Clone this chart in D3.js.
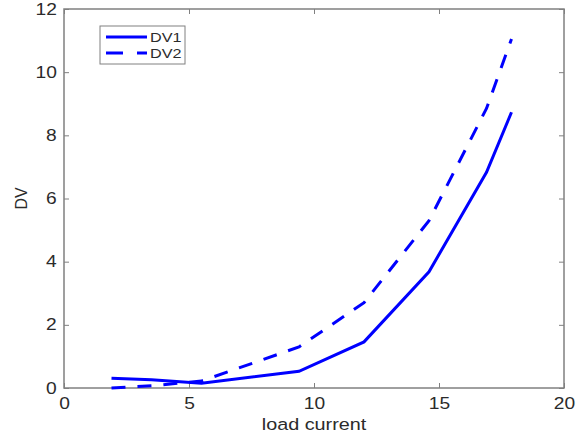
<!DOCTYPE html>
<html>
<head>
<meta charset="utf-8">
<script src="https://cdn.jsdelivr.net/npm/d3@7"></script>
<style>
body{margin:0;background:#fff;}
text{font-family:"Liberation Sans",Arial,sans-serif;}
</style>
</head>
<body>
<svg id="chart" width="586" height="439"></svg>
<script>
// data
var loadCurrent = [1.9, 3.5, 5.5, 9.4, 12.0, 14.6, 16.9, 17.9];
var dv1 = [0.31, 0.26, 0.15, 0.53, 1.46, 3.68, 6.83, 8.73];
var dv2 = [0.0, 0.07, 0.22, 1.3, 2.7, 5.3, 8.85, 11.05];
var xTicks = [0, 5, 10, 15, 20];
var yTicks = [0, 2, 4, 6, 8, 10, 12];
var seriesNames = ["DV1", "DV2"];

// the source picture is stretched sideways a little, text too
var stretch = 1.2;

function drawChart(){
	var svg = d3.select("#chart");
	var plotL = 64, plotR = 564, plotT = 9, plotB = 388;
	var axisCol = "#808080", textCol = "#2b2b2b";

	var x = d3.scaleLinear().domain([0, 20]).range([plotL, plotR]);
	var y = d3.scaleLinear().domain([0, 12]).range([plotB, plotT]);

	// box
	svg.append("rect")
		.attr("x", plotL).attr("y", plotT)
		.attr("width", plotR - plotL).attr("height", plotB - plotT)
		.attr("fill", "none").attr("stroke", axisCol).attr("stroke-width", 1.5);

	// axes, ticks point inward (matlab style)
	svg.append("g").attr("transform", "translate(0," + plotB + ")")
		.call(d3.axisBottom(x).tickValues(xTicks).tickSizeInner(-5).tickSizeOuter(0).tickPadding(10));
	svg.append("g").attr("transform", "translate(" + plotL + ",0)")
		.call(d3.axisLeft(y).tickValues(yTicks).tickSizeInner(-5).tickSizeOuter(0).tickPadding(6));
	// mirror ticks on top / right
	svg.append("g").attr("transform", "translate(0," + plotT + ")")
		.call(d3.axisTop(x).tickValues(xTicks).tickSizeInner(-5).tickSizeOuter(0).tickFormat(""));
	svg.append("g").attr("transform", "translate(" + plotR + ",0)")
		.call(d3.axisRight(y).tickValues(yTicks).tickSizeInner(-5).tickSizeOuter(0).tickFormat(""));

	svg.selectAll(".domain").remove();
	svg.selectAll(".tick line").attr("stroke", axisCol);
	svg.selectAll(".tick text").attr("fill", textCol).style("font-size", "16px")
		.style("font-family", "'Liberation Sans',Arial,sans-serif")
		.attr("transform", "scale(" + stretch + ",1)");

	// labels
	svg.append("text")
		.attr("transform", "translate(" + ((plotL + plotR) / 2) + ",430) scale(" + stretch + ",1)")
		.attr("text-anchor", "middle").attr("fill", textCol).style("font-size", "16.5px")
		.text("load current");
	svg.append("text").attr("transform", "translate(27," + ((plotT + plotB) / 2) + ") rotate(-90)")
		.attr("text-anchor", "middle").attr("fill", textCol).style("font-size", "16px")
		.text("DV");

	// lines
	var line = d3.line()
		.x(function(d){ return x(d[0]); })
		.y(function(d){ return y(d[1]); });

	var dashes = [null, "14,12"];
	[dv1, dv2].forEach(function(vals, i){
		svg.append("path")
			.datum(d3.zip(loadCurrent, vals))
			.attr("d", line)
			.attr("fill", "none")
			.attr("stroke", "#0000ff")
			.attr("stroke-width", 3)
			.attr("stroke-dasharray", dashes[i]);
	});

	// legend
	var lg = svg.append("g");
	lg.append("rect").attr("x", 100).attr("y", 26).attr("width", 85).attr("height", 38)
		.attr("fill", "#fff").attr("stroke", axisCol).attr("stroke-width", 1);
	seriesNames.forEach(function(name, i){
		var ly = 37 + i * 16;
		lg.append("line").attr("x1", 106).attr("x2", 147).attr("y1", ly).attr("y2", ly)
			.attr("stroke", "#0000ff").attr("stroke-width", 3)
			.attr("stroke-dasharray", i == 1 ? "17,14" : null);
		lg.append("text")
			.attr("transform", "translate(150," + (ly + 5) + ") scale(" + stretch + ",1)")
			.attr("fill", textCol).style("font-size", "13.5px").text(name);
	});
}

drawChart();
</script>
</body>
</html>
